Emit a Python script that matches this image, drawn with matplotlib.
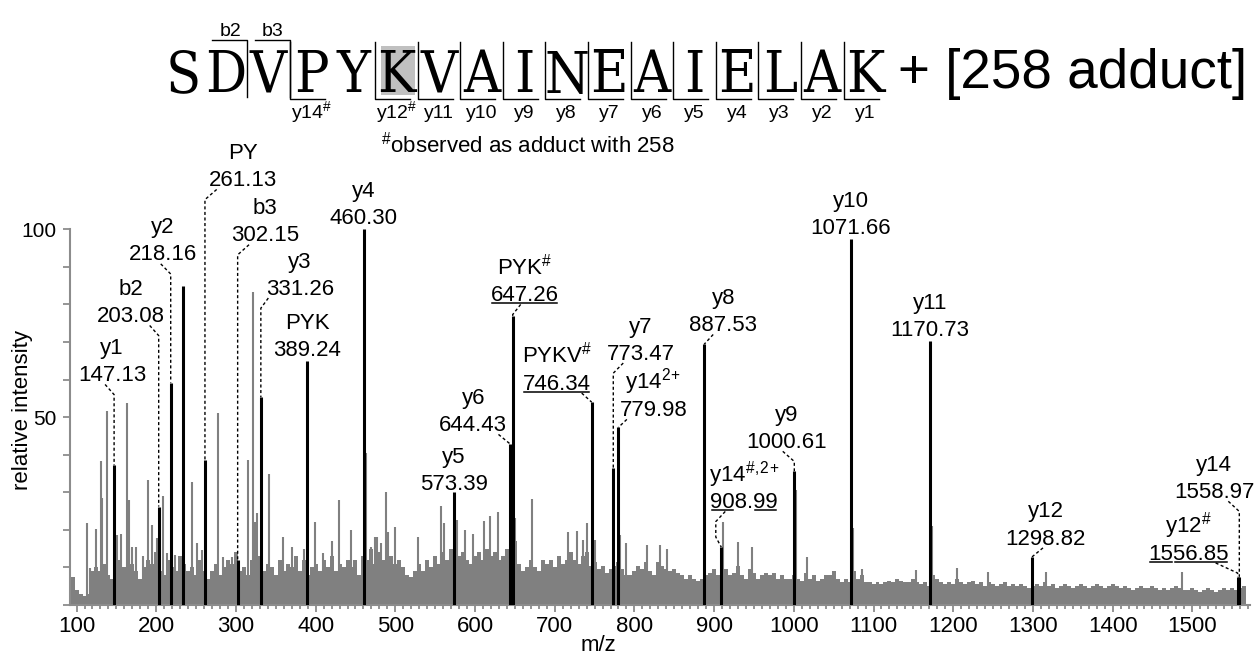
import matplotlib.pyplot as plt
from matplotlib.transforms import Affine2D
from matplotlib.patches import Rectangle
from matplotlib.lines import Line2D

plt.rcParams['font.family'] = 'Liberation Sans'
plt.rcParams['mathtext.fontset'] = 'custom'
plt.rcParams['mathtext.rm'] = 'Liberation Sans'
plt.rcParams['mathtext.it'] = 'Liberation Sans:italic'
plt.rcParams['mathtext.bf'] = 'Liberation Sans:bold'

GREY = '#808080'
AXIS_GREY = '#8c8c8c'

# background spectrum, one value per 5 m/z starting at 95
noise_start = 95
noise_step = 5
noise_int = [
    7.5, 4, 3, 2.5, 3, 9, 10, 9, 11, 8,
    7, 9, 12, 10, 8, 11, 9, 7, 10, 12,
    11, 14, 9, 8, 12, 10, 9, 13, 11, 9,
    10, 8, 12, 9, 7, 9, 11, 8, 10, 12,
    11, 14, 9, 10, 8, 12, 22, 13, 9, 11,
    10, 8, 12, 9, 11, 10, 13, 9, 12, 8,
    10, 11, 9, 12, 10, 13, 9, 11, 10, 12,
    10, 12, 8, 13, 12, 15, 11, 14, 12, 14,
    13, 11, 12, 10, 8, 7.5, 9, 11, 9, 12,
    10, 13, 11, 14, 12, 15, 16, 13, 14, 12,
    11, 13, 14, 12, 15, 13, 14, 12, 13, 15,
    16, 17, 11, 9, 10, 12, 10, 9, 12, 11,
    12, 10, 13, 11, 12, 14, 12, 11, 13, 14,
    10.5, 11.5, 9.5, 10.5, 8.5, 9.5, 10.5, 11.5, 9.5, 8,
    8, 9, 10.5, 9.5, 11.5, 9, 8, 11.5, 10.5, 9.5,
    9, 9.5, 8.5, 8, 7, 8, 7, 6.5, 7, 8,
    8.5, 9.5, 8, 10.5, 9.5, 8, 8.5, 10.5, 8, 7,
    9.5, 8.5, 7, 8, 8.5, 8, 8.5, 7, 8, 7,
    7, 8, 7, 6.5, 8.5, 7, 8, 6.5, 7, 8,
    8, 9, 7, 6, 7, 6, 9, 7, 8, 6,
    6, 5.5, 6, 5.5, 6, 6.5, 6, 7, 6.5, 6,
    6, 7, 6, 5.5, 6, 5, 8, 7, 6, 5.5,
    6, 5.5, 7, 6, 5.5, 6, 6.5, 5.5, 6, 5,
    6, 5.5, 5, 5.5, 6, 5, 5.5, 5, 5.5, 5,
    4.5, 5, 5.5, 5, 6, 5, 5.5, 4.5, 5, 5.5,
    5, 4.5, 5, 5.5, 5, 4.5, 5, 5.5, 5, 4.5,
    5, 5.5, 5, 4.5, 5, 4.5, 4, 4.5, 5, 4.5,
    4.5, 5, 4.5, 4, 4.5, 4, 4.5, 5, 4.5, 4,
    4, 4.5, 4, 3.5, 4, 4.5, 4, 3.5, 4, 4.5,
    4, 4.5, 4, 4.5, 5,
]
noise_mz = [noise_start + noise_step * i for i in range(len(noise_int))]

# unassigned peaks standing out of the background
spike_mz = [113, 117, 125, 130.5, 132.5, 138.7, 151, 156, 163.8, 166.3,
            169.5, 174.7, 183, 189.5, 194.5, 200.6, 208, 213, 223.6, 244.5,
            250.9, 257, 278, 284, 294.8, 315.6, 322, 327, 342, 359,
            370.7, 386, 399, 409, 420, 429, 444, 463.5, 469.5, 474.5,
            477, 481.7, 488, 491.3, 499.6, 529, 557, 561, 577, 587.5,
            598, 611, 619, 629.3, 650, 672, 717, 727.6, 736, 741,
            750.6, 782, 789.5, 815.5, 832, 841.3, 910.6, 930, 947, 1002.8,
            1016, 1074.6, 1085, 1153, 1173.3, 1204.4, 1244, 1317, 1486.7]
spike_int = [21.7, 9.8, 20.2, 38.4, 28.4, 51.7, 18.6, 19, 53.7, 28,
             15.5, 15.5, 13, 33.3, 21.3, 17.8, 29, 13.8, 13.3, 32.8,
             16.4, 14.6, 51, 12.9, 12.9, 38.6, 83.4, 24.5, 34.8, 18,
             15.5, 15, 22.2, 13.8, 17, 28, 20, 40.4, 15.4, 18,
             18.2, 16.4, 30, 19.5, 20.8, 18.2, 26.4, 21.7, 22.6, 20,
             18.9, 22.4, 23.7, 24.8, 23.2, 28.3, 19.5, 19.7, 17.3, 21.7,
             17.3, 18.6, 16.5, 16, 16, 14.8, 22.2, 16.9, 15.4, 30.6,
             12.9, 20.5, 9.5, 9.3, 20.9, 9.8, 8.9, 8.9, 8.9]

# assigned fragment ions
ion_names = ['y1', 'b2', 'y2', 'PY', 'b3', 'y3', 'PYK', 'y4',
             r'PYK$^{\#}$', r'PYKV$^{\#}$', 'y7', r'y14$^{2}$$^{+}$', 'y6', 'y5', 'y8',
             r'y14$^{\#}$$^{,}$$^{2}$$^{+}$', 'y9', 'y10', 'y11', 'y12', 'y14', r'y12$^{\#}$']
ion_mz = [147.13, 203.08, 218.16, 261.13, 302.15, 331.26, 389.24, 460.30,
          647.26, 746.34, 773.47, 779.98, 644.43, 573.39, 887.53,
          908.99, 1000.61, 1071.66, 1170.73, 1298.82, 1558.97, 1556.85]
ion_int = [37.2, 26.2, 59.2, 38.6, 12.0, 55.3, 64.9, 100.0,
           76.9, 54.0, 36.4, 47.3, 42.8, 30.0, 69.4,
           15.4, 35.6, 97.3, 70.2, 12.8, 7.5, 7.5]

# matched peak drawn in black without a label
extra_mz = [234.0]
extra_int = [84.8]

# label layout: centre of the m/z text, start of the dotted leader (offset in m/z)
label_x = [144.5, 168.4, 208.5, 309.3, 336.5, 380.4, 389.24, 460.30,
           662.7, 702.5, 807.9, 823.7, 597.9, 573.39, 911.5,
           937.5, 991.5, 1071.66, 1170.73, 1316.1, 1527.2, 1495.5]
label_y = [61.7, 77.4, 93.8, 113.6, 98.9, 84.7, 68.3, 103.4,
           83.0, 59.4, 67.4, 52.4, 48.4, 32.8, 75.0,
           27.9, 43.9, 100.8, 73.7, 18.2, 30.6, 14.2]
leader_dx = [-11.3, -11.3, -12.5, 14.7, 14.3, 9.4, None, None,
             10.0, -12.5, 12.5, 10.5, -15.0, None, 11.3,
             5.0, -14.5, None, None, 13.8, -13.8, -27.6]
underlined = {647.26: [(0, 6)], 746.34: [(0, 6)],
              908.99: [(0, 2), (4, 6)], 1556.85: [(0, 2), (2, 7)]}

fig = plt.figure(figsize=(12.57, 6.56), dpi=100)
ax = fig.add_axes([70 / 1257, 51 / 656, 1179.7 / 1257, 375.7 / 656])
ax.patch.set_alpha(0)

ax.bar(noise_mz, noise_int, width=noise_step, color=GREY, linewidth=0, zorder=1)
ax.vlines(spike_mz, 0, spike_int, color=GREY, lw=1.5, zorder=2)
ax.vlines(extra_mz, 0, extra_int, color='black', lw=2.2, zorder=3)
ax.vlines(ion_mz, 0, ion_int, color='black', lw=2.2, zorder=3)

ax.set_xlim(91.8, 1572)
ax.set_ylim(0, 100)
ax.set_xticks(range(100, 1501, 100))
ax.set_xticks(range(100, 1571, 10), minor=True)
ax.set_yticks([50, 100])
ax.set_yticks([0, 10, 20, 30, 40, 60, 70, 80, 90], minor=True)
ax.tick_params(axis='both', which='both', color=AXIS_GREY, width=1.3, direction='out')
ax.tick_params(axis='x', which='major', length=5, labelsize=16, pad=3)
ax.tick_params(axis='x', which='minor', length=3)
ax.tick_params(axis='y', which='both', length=5, labelsize=15, pad=5)
for side in ['top', 'right']:
    ax.spines[side].set_visible(False)
for side in ['left', 'bottom']:
    ax.spines[side].set_color(AXIS_GREY)
    ax.spines[side].set_linewidth(1.5)

ax.set_ylabel('relative intensity', fontsize=16)
ax.yaxis.set_label_coords(-0.0314, 0.519)
ax.set_xlabel('m/z', fontsize=16)
ax.xaxis.set_label_coords(0.4476, -0.08)

renderer = fig.canvas.get_renderer()
inv = ax.transData.inverted()
line_gap = 7.2
base_shift = 2.1

for name, mz, h, tx, ty, dx in zip(ion_names, ion_mz, ion_int, label_x, label_y, leader_dx):
    val = ax.text(tx, ty - base_shift, f'{mz:.2f}', ha='center', va='baseline', fontsize=16)
    ax.text(tx, ty - base_shift + line_gap, name, ha='center', va='baseline', fontsize=16)

    if mz in underlined:
        s = val.get_text()
        prop = val.get_fontproperties()
        bb = val.get_window_extent(renderer)
        yb = ax.transData.transform((0, ty - base_shift))[1] - 2
        for a, b in underlined[mz]:
            wa = renderer.get_text_width_height_descent(s[:a], prop, ismath=False)[0] if a else 0
            wb = renderer.get_text_width_height_descent(s[:b], prop, ismath=False)[0]
            (xa, y), (xb, _) = inv.transform([(bb.x0 + wa + 1.5, yb), (bb.x0 + wb - 1.5, yb)])
            ax.plot([xa, xb], [y, y], color='black', lw=1.1, clip_on=False)

    if dx is None:
        continue
    sy = ty - 3.0
    if mz == 908.99:
        # leader bends round the neighbouring peak
        xs = [mz + dx, mz - 6.9, mz - 6.9, mz]
        ys = [sy, sy - 2.7, h + 2.7, h]
    else:
        cy = max(sy - 2.7, h)
        xs = [mz + dx, mz, mz]
        ys = [sy, cy, h]
    ax.plot(xs, ys, color='black', lw=1.0, ls=(0, (2.2, 1.8)), clip_on=False, zorder=4)

# peptide sequence with fragment brackets, laid out in pixel units (y down)
px = Affine2D().scale(1 / 1257, -1 / 656).translate(0, 1) + fig.transFigure
peptide = 'SDVPYKVAINEAIELAK'
x0, pitch = 183.3, 42.6

fig.add_artist(Rectangle((380.7, 46), 34, 49, transform=px, color='#c0c0c0', lw=0, zorder=0))
for i, aa in enumerate(peptide):
    fig.text(x0 + pitch * i, 92.5, aa, transform=px, family='DejaVu Serif',
             fontstretch='condensed', fontweight='light',
             fontsize=41, ha='center', va='baseline')

b_sites = [1, 2]
b_names = ['b2', 'b3']
for k, name in zip(b_sites, b_names):
    xs = x0 + pitch * (k + 0.5)
    fig.add_artist(Line2D([xs - 35, xs, xs], [40, 40, 97], transform=px, color='black', lw=1.0))
    fig.text(xs - 17, 36, name, transform=px, fontsize=14, ha='center', va='baseline')

y_numbers = [14, 12, 11, 10, 9, 8, 7, 6, 5, 4, 3, 2, 1]
y_names = [r'y14$^{\#}$', r'y12$^{\#}$', 'y11', 'y10', 'y9', 'y8', 'y7',
           'y6', 'y5', 'y4', 'y3', 'y2', 'y1']
for n, name in zip(y_numbers, y_names):
    xs = x0 + pitch * (16 - n + 0.5)
    fig.add_artist(Line2D([xs, xs, xs + 35], [42, 99, 99], transform=px, color='black', lw=1.0))
    fig.text(xs + 21.3, 118, name, transform=px, fontsize=14, ha='center', va='baseline')

fig.text(898, 88, '+ [258 adduct]', transform=px, fontsize=39.5, ha='left', va='baseline')
fig.text(381, 153, r'$^{\#}$observed as adduct with 258', transform=px, fontsize=16,
         ha='left', va='baseline')

fig.savefig('out.png', dpi=100)
